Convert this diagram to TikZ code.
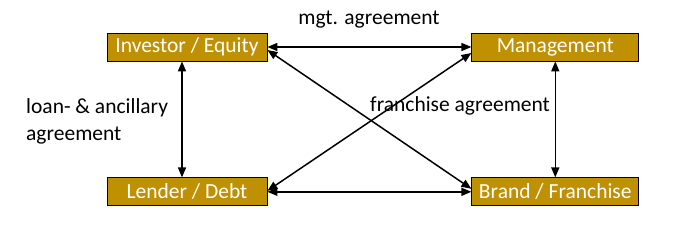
\documentclass[tikz,border=0pt]{standalone}
\usepackage{fontspec}
\setmainfont{Carlito}
\usetikzlibrary{positioning,arrows.meta}
\definecolor{gold}{HTML}{BF9000}
\begin{document}
\begin{tikzpicture}[
    x=1pt, y=1pt,
    >={Triangle[length=10pt,width=8pt]},
    every node/.style={font=\fontsize{21.5}{27}\selectfont},
    party/.style={draw=black, line width=0.8pt, fill=gold, text=white, minimum height=28pt, inner sep=0pt},
    link/.style={<->, line width=1.5pt},
  ]
    \useasboundingbox (0,0) rectangle (678,-233);
    % the four parties
    \node[party, minimum width=160pt] (inv) at (187,-47) {Investor / Equity};
    \node[party, minimum width=167pt, right=204pt of inv] (mgmt) {Management};
    \node[party, minimum width=160pt, below=116pt of inv] (lend) {Lender / Debt};
    \node[party, minimum width=167pt, below=116pt of mgmt] (brand) {Brand / Franchise};
    % contracts
    \draw[link] (inv) -- (mgmt);
    \draw[link] (lend) -- (brand);
    \draw[link] ([xshift=-5pt]inv.south) -- ([xshift=-5pt]lend.north);
    \draw[link] (mgmt) -- (brand);
    \draw[link] ([yshift=-3pt]inv.east) -- ([yshift=3pt]brand.west);
    \draw[link] ([yshift=1pt]lend.east) -- ([yshift=-6pt]mgmt.west);
    % labels
    \node (mgtlbl) at (369,-20) {mgt. agreement};
    \node[anchor=west, inner sep=0pt] (franlbl) at (370,-106) {franchise agreement};
    \node[anchor=west, align=left, inner sep=0pt] (loanlbl) at (26,-121) {loan- \& ancillary\\agreement};
  \end{tikzpicture}
\end{document}
